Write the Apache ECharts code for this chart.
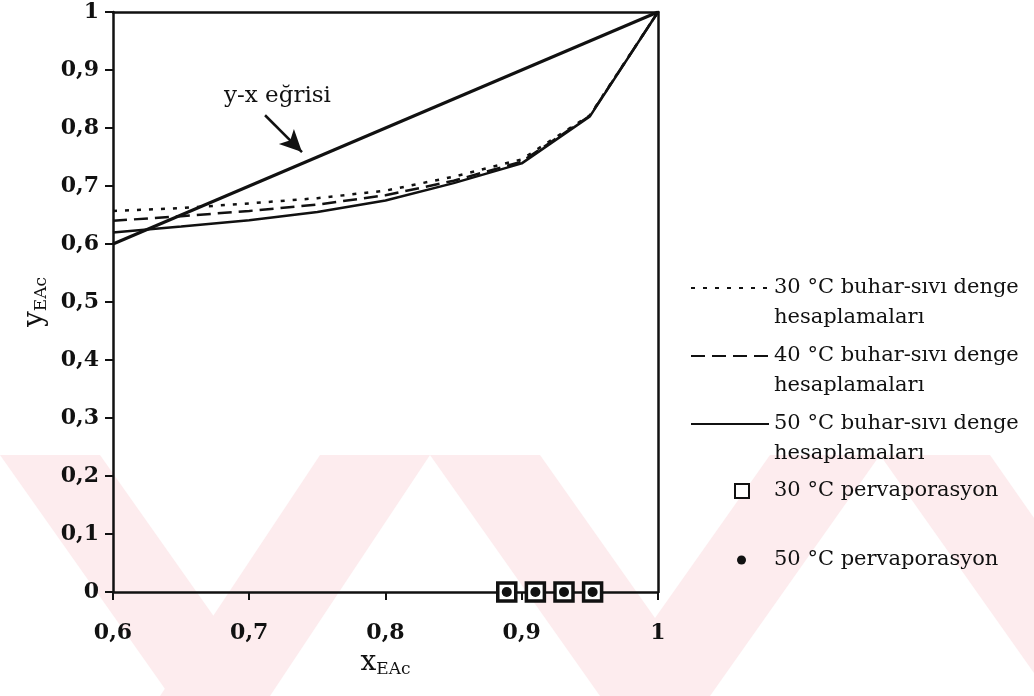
<!DOCTYPE html>
<html>
<head>
<meta charset="utf-8">
<script src="https://cdn.jsdelivr.net/npm/echarts@6/dist/echarts.min.js"></script>
<style>
html, body { margin: 0; padding: 0; background: #fff; }
#main { width: 1034px; height: 696px; }
</style>
</head>
<body>
<div id="main"></div>
<script>
// buhar-sivi denge egrileri (x_EAc -> y_EAc)
var xDenge = [0.6, 0.65, 0.7, 0.75, 0.8, 0.85, 0.9, 0.95, 1];
var y30 = [0.657, 0.662, 0.670, 0.679, 0.692, 0.716, 0.746, 0.822, 1];
var y40 = [0.640, 0.648, 0.657, 0.668, 0.684, 0.709, 0.742, 0.821, 1];
var y50 = [0.620, 0.630, 0.641, 0.655, 0.675, 0.705, 0.739, 0.820, 1];

// y-x egrisi
var xDiag = [0.6, 1];
var yDiag = [0.6, 1];

// pervaporasyon noktalari
var xPerv = [0.889, 0.910, 0.931, 0.952];
var yPerv30 = [0, 0, 0, 0];
var yPerv50 = [0, 0, 0, 0];

var names = [
	'30 °C buhar-sıvı denge hesaplamaları',
	'40 °C buhar-sıvı denge hesaplamaları',
	'50 °C buhar-sıvı denge hesaplamaları',
	'30 °C pervaporasyon',
	'50 °C pervaporasyon'
];

function pairs(xs, ys) {
	var out = [];
	for (var i = 0; i < xs.length; i++) {
		out.push([xs[i], ys[i]]);
	}
	return out;
}

function fmt(v) {
	return String(Math.round(v * 10) / 10).replace('.', ',');
}

var serif = 'DejaVu Serif';

function legendFor(idx, top, left, w, h, padLeft, hideSym) {
	return {
		data: [names[idx]],
		left: left,
		top: top,
		padding: 0,
		itemWidth: w,
		itemHeight: h,
		selectedMode: false,
		itemStyle: hideSym ? {opacity: 0} : {},
		formatter: function(name) {
			if (name.indexOf('hesaplamaları') > 0) {
				return ' \n' + name.replace(' hesaplamaları', '') + '\nhesaplamaları';
			}
			return name;
		},
		textStyle: {fontFamily: serif, fontSize: 21, color: '#111', lineHeight: 30, padding: [0, 0, 0, padLeft]}
	};
}

// filigran (arka plandaki pembe desen)
var wm = [
	[[0, 455], [100, 455], [270, 696], [170, 696]],
	[[320, 455], [430, 455], [270, 696], [160, 696]],
	[[430, 455], [540, 455], [710, 696], [600, 696]],
	[[770, 455], [880, 455], [710, 696], [600, 696]],
	[[880, 455], [990, 455], [1034, 518], [1034, 673]]
];
var wmGraphics = wm.map(function(p) {
	return {type: 'polygon', z: -10, silent: true, shape: {points: p}, style: {fill: '#fdecee'}};
});

var chart = echarts.init(document.getElementById('main'));
var option = {
	animation: false,
	backgroundColor: '#fff',
	color: ['#111', '#111', '#111', '#111', '#111', '#111'],
	grid: {left: 113, right: 376, top: 12, bottom: 104, containLabel: false},
	legend: [
		legendFor(0, 243, 690, 78, 14, 0, true),
		legendFor(1, 311, 690, 78, 14, 0, true),
		legendFor(2, 379, 690, 78, 14, 0, true),
		legendFor(3, 476, 734, 14, 14, 20, false),
		legendFor(4, 545, 737, 9, 9, 23, false)
	],
	xAxis: [{
		type: 'value',
		min: 0.6, max: 1, interval: 0.1,
		name: '{a|x}{b|EAc}',
		nameLocation: 'middle',
		nameGap: 48,
		nameTextStyle: {
			rich: {
				a: {fontFamily: serif, fontSize: 28, color: '#111'},
				b: {fontFamily: serif, fontSize: 17, color: '#111', padding: [14, 0, 0, 0]}
			}
		},
		axisLine: {show: true, onZero: false, lineStyle: {color: '#111', width: 2.5}},
		axisTick: {show: true, inside: false, length: 8, lineStyle: {color: '#111', width: 2}},
		axisLabel: {margin: 30, fontFamily: serif, fontWeight: 'bold', fontSize: 22, color: '#111', formatter: fmt},
		splitLine: {show: false}
	}, {
		type: 'value', position: 'top',
		min: 0.6, max: 1, interval: 0.1,
		axisLine: {show: true, onZero: false, lineStyle: {color: '#111', width: 2.5}},
		axisTick: {show: false}, axisLabel: {show: false}, splitLine: {show: false}
	}],
	yAxis: [{
		type: 'value',
		min: 0, max: 1, interval: 0.1,
		name: '{a|y}{b|EAc}',
		nameLocation: 'middle',
		nameGap: 62,
		nameRotate: 90,
		nameTextStyle: {
			rich: {
				a: {fontFamily: serif, fontSize: 28, color: '#111'},
				b: {fontFamily: serif, fontSize: 17, color: '#111', padding: [14, 0, 0, 0]}
			}
		},
		axisLine: {show: true, onZero: false, lineStyle: {color: '#111', width: 2.5}},
		axisTick: {show: true, inside: false, length: 8, lineStyle: {color: '#111', width: 2}},
		axisLabel: {margin: 14, fontFamily: serif, fontWeight: 'bold', fontSize: 22, color: '#111', formatter: fmt},
		splitLine: {show: false}
	}, {
		type: 'value', position: 'right',
		min: 0, max: 1, interval: 0.1,
		axisLine: {show: true, onZero: false, lineStyle: {color: '#111', width: 2.5}},
		axisTick: {show: false}, axisLabel: {show: false}, splitLine: {show: false}
	}],
	graphic: wmGraphics.concat([{
		type: 'text',
		left: 224, top: 85,
		style: {text: 'y-x eğrisi', fontFamily: serif, fontSize: 23, fill: '#111'}
	}]),
	series: [{
		name: 'y-x eğrisi',
		type: 'line',
		data: pairs(xDiag, yDiag),
		symbol: 'none',
		lineStyle: {color: '#111', width: 3},
		markLine: {
			silent: true,
			symbol: ['none', 'arrow'],
			symbolSize: [16, 22],
			label: {show: false},
			lineStyle: {color: '#111', width: 2.5, type: 'solid'},
			data: [[{coord: [0.7116, 0.822]}, {coord: [0.7387, 0.7586]}]]
		},
		z: 3
	}, {
		name: names[0],
		type: 'line',
		data: pairs(xDenge, y30),
		symbol: 'none',
		lineStyle: {color: '#111', width: 2.5, type: [4, 8]}
	}, {
		name: names[1],
		type: 'line',
		data: pairs(xDenge, y40),
		symbol: 'none',
		lineStyle: {color: '#111', width: 2.5, type: [14, 7]}
	}, {
		name: names[2],
		type: 'line',
		data: pairs(xDenge, y50),
		symbol: 'none',
		lineStyle: {color: '#111', width: 2.5}
	}, {
		name: names[3],
		type: 'scatter',
		data: pairs(xPerv, yPerv30),
		symbol: 'rect',
		symbolSize: 18,
		itemStyle: {color: '#fff', borderColor: '#111', borderWidth: 3.5, opacity: 1},
		z: 4
	}, {
		name: names[4],
		type: 'scatter',
		data: pairs(xPerv, yPerv50),
		symbol: 'circle',
		symbolSize: 10,
		itemStyle: {color: '#111', opacity: 1},
		z: 5
	}]
};
chart.setOption(option);
</script>
</body>
</html>
